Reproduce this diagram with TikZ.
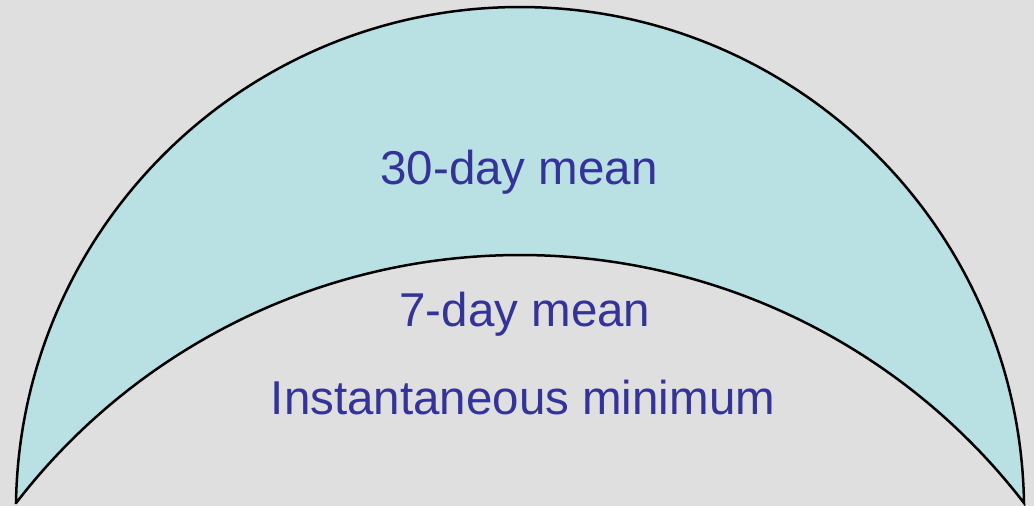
\documentclass[tikz,border=0pt]{standalone}
\usepackage{fontspec}
\setmainfont{Liberation Sans}
\usetikzlibrary{positioning}
\definecolor{cBg}{HTML}{DFDFDF}
\definecolor{cBand}{HTML}{B9E0E3}
\definecolor{cText}{HTML}{333399}
\tikzset{
  band/.style={draw=black, line width=2.5pt, fill=cBand, line join=miter},
  lbl/.style={anchor=base, text=cText, inner sep=0pt, font=\fontsize{47.5}{52}\selectfont},
}

\begin{document}
\begin{tikzpicture}[x=1pt, y=1pt]
    % page frame
    \fill[cBg] (0,0) rectangle (1034,506);
    \useasboundingbox (0,0) rectangle (1034,506);
    % crescent band between the two arcs
    \coordinate (lft) at (16,3);
    \coordinate (rgt) at (1024,3);
    \draw[band] (lft) arc[start angle=179.08, end angle=0.92, radius=504.07]
      arc[start angle=37.60, end angle=142.40, radius=636.1] -- cycle;
    % labels
    \node[lbl] (thirty) at (519,321) {30-day mean};
    \node[lbl] (seven) at (525,179) {7-day mean};
    \node[lbl] (inst) at (523,91) {Instantaneous minimum};
\end{tikzpicture}
\end{document}
